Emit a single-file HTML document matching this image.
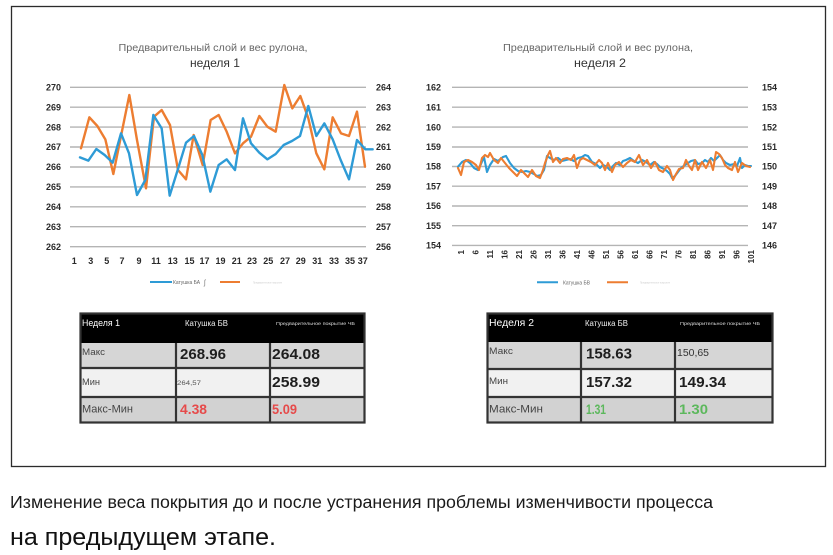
<!DOCTYPE html>
<html>
<head>
<meta charset="utf-8">
<style>
  html,body{margin:0;padding:0;background:#fff;}
  svg{display:block;}
  text{font-family:"Liberation Sans","Noto Sans CJK SC",sans-serif;}
</style>
</head>
<body>
<svg width="833" height="555" viewBox="0 0 833 555" xmlns="http://www.w3.org/2000/svg">
  <rect x="0" y="0" width="833" height="555" fill="#ffffff"/>
  <!-- frame -->
  <rect x="11.5" y="6.5" width="814" height="460" fill="none" stroke="#2b2b2b" stroke-width="1.3"/>

  <!-- ================= CHART 1 ================= -->
  <text x="213" y="51" font-size="10" fill="#666" text-anchor="middle" textLength="189" lengthAdjust="spacingAndGlyphs">Предварительный слой и вес рулона,</text>
  <text x="215" y="67" font-size="12" fill="#333" text-anchor="middle" textLength="50" lengthAdjust="spacingAndGlyphs">неделя 1</text>

  <g stroke="#b4b4b4" stroke-width="1.4">
    <line x1="70" y1="87.3" x2="366" y2="87.3"/>
    <line x1="70" y1="107.2" x2="366" y2="107.2"/>
    <line x1="70" y1="127.1" x2="366" y2="127.1"/>
    <line x1="70" y1="147" x2="366" y2="147"/>
    <line x1="70" y1="167" x2="366" y2="167"/>
    <line x1="70" y1="186.9" x2="366" y2="186.9"/>
    <line x1="70" y1="206.8" x2="366" y2="206.8"/>
    <line x1="70" y1="226.7" x2="366" y2="226.7"/>
    <line x1="70" y1="246.7" x2="366" y2="246.7"/>
  </g>
  <g font-size="9" font-weight="bold" fill="#2a2a2a" text-anchor="end">
    <text x="61" y="90.5">270</text>
    <text x="61" y="110.4">269</text>
    <text x="61" y="130.3">268</text>
    <text x="61" y="150.2">267</text>
    <text x="61" y="170.2">266</text>
    <text x="61" y="190.1">265</text>
    <text x="61" y="210">264</text>
    <text x="61" y="229.9">263</text>
    <text x="61" y="249.9">262</text>
  </g>
  <g font-size="9" font-weight="bold" fill="#2a2a2a" text-anchor="start">
    <text x="376" y="90.5">264</text>
    <text x="376" y="110.4">263</text>
    <text x="376" y="130.3">262</text>
    <text x="376" y="150.2">261</text>
    <text x="376" y="170.2">260</text>
    <text x="376" y="190.1">259</text>
    <text x="376" y="210">258</text>
    <text x="376" y="229.9">257</text>
    <text x="376" y="249.9">256</text>
  </g>
  <g font-size="9" font-weight="bold" fill="#2a2a2a" text-anchor="middle">
    <text x="74.3" y="264">1</text>
    <text x="90.7" y="264">3</text>
    <text x="106.7" y="264">5</text>
    <text x="122" y="264">7</text>
    <text x="139" y="264">9</text>
    <text x="156" y="264">11</text>
    <text x="172.7" y="264">13</text>
    <text x="189.5" y="264">15</text>
    <text x="204.5" y="264">17</text>
    <text x="220.5" y="264">19</text>
    <text x="236.7" y="264">21</text>
    <text x="252" y="264">23</text>
    <text x="268.3" y="264">25</text>
    <text x="285" y="264">27</text>
    <text x="300.7" y="264">29</text>
    <text x="317.3" y="264">31</text>
    <text x="334" y="264">33</text>
    <text x="350" y="264">35</text>
    <text x="362.7" y="264">37</text>
  </g>

  <g transform="translate(40,30) scale(0.33333)" fill="none" stroke-linejoin="round" stroke-linecap="round">
    <polyline stroke="#ed7d31" stroke-width="2.4" vector-effect="non-scaling-stroke"
      points="123,355 148,262 172,288 196,328 220,432 243,318 268,195 291,330 318,475 342,260 365,240 390,285 414,420 438,448 461,315 488,405 512,270 536,255 560,305 585,370 609,340 633,320 658,258 682,290 707,305 733,165 757,235 781,198 805,265 829,370 853,418 878,262 903,310 927,318 951,245 975,410"/>
    <polyline stroke="#2e9bd6" stroke-width="2.4" vector-effect="non-scaling-stroke"
      points="120,382 145,392 169,357 194,375 218,398 243,310 267,370 291,495 316,450 340,255 365,295 389,497 413,420 438,338 462,318 487,375 511,485 536,405 560,388 585,420 609,265 633,340 658,368 682,388 707,372 731,345 756,333 780,318 805,228 829,318 853,280 878,328 902,390 927,448 951,330 976,358 998,358"/>
  </g>

  <!-- legend 1 -->
  <line x1="150" y1="282" x2="172" y2="282" stroke="#2e9bd6" stroke-width="2"/>
  <text x="173" y="284" font-size="5" fill="#666" textLength="27" lengthAdjust="spacingAndGlyphs">Катушка БА</text>
  <text x="204" y="285" font-size="7" fill="#777">ʃ</text>
  <line x1="220" y1="282" x2="240" y2="282" stroke="#ed7d31" stroke-width="2"/>
  <text x="253" y="283.5" font-size="3" fill="#ccc" textLength="29" lengthAdjust="spacingAndGlyphs">Предварительное покрытие</text>

  <!-- ================= CHART 2 ================= -->
  <text x="598" y="51" font-size="10" fill="#666" text-anchor="middle" textLength="190" lengthAdjust="spacingAndGlyphs">Предварительный слой и вес рулона,</text>
  <text x="600" y="67" font-size="12" fill="#333" text-anchor="middle" textLength="52" lengthAdjust="spacingAndGlyphs">неделя 2</text>

  <g stroke="#b4b4b4" stroke-width="1.4">
    <line x1="452" y1="87.3" x2="748" y2="87.3"/>
    <line x1="452" y1="107.2" x2="748" y2="107.2"/>
    <line x1="452" y1="127.1" x2="748" y2="127.1"/>
    <line x1="452" y1="147" x2="748" y2="147"/>
    <line x1="452" y1="166.5" x2="748" y2="166.5"/>
    <line x1="452" y1="186.2" x2="748" y2="186.2"/>
    <line x1="452" y1="206" x2="748" y2="206"/>
    <line x1="452" y1="225.7" x2="748" y2="225.7"/>
    <line x1="452" y1="245.4" x2="748" y2="245.4"/>
  </g>
  <g font-size="9" font-weight="bold" fill="#2a2a2a" text-anchor="end">
    <text x="441" y="90.5">162</text>
    <text x="441" y="110.4">161</text>
    <text x="441" y="130.3">160</text>
    <text x="441" y="150.2">159</text>
    <text x="441" y="169.7">158</text>
    <text x="441" y="189.4">157</text>
    <text x="441" y="209.2">156</text>
    <text x="441" y="228.9">155</text>
    <text x="441" y="248.6">154</text>
  </g>
  <g font-size="9" font-weight="bold" fill="#2a2a2a" text-anchor="start">
    <text x="762" y="90.5">154</text>
    <text x="762" y="110.4">153</text>
    <text x="762" y="130.3">152</text>
    <text x="762" y="150.2">151</text>
    <text x="762" y="169.7">150</text>
    <text x="762" y="189.4">149</text>
    <text x="762" y="209.2">148</text>
    <text x="762" y="228.9">147</text>
    <text x="762" y="248.6">146</text>
  </g>
  <g font-size="8" font-weight="bold" fill="#2a2a2a" text-anchor="end">
    <text transform="translate(464,250) rotate(-90)">1</text>
    <text transform="translate(478.5,250) rotate(-90)">6</text>
    <text transform="translate(493,250) rotate(-90)">11</text>
    <text transform="translate(507.5,250) rotate(-90)">16</text>
    <text transform="translate(522,250) rotate(-90)">21</text>
    <text transform="translate(536.5,250) rotate(-90)">26</text>
    <text transform="translate(551,250) rotate(-90)">31</text>
    <text transform="translate(565.5,250) rotate(-90)">36</text>
    <text transform="translate(580,250) rotate(-90)">41</text>
    <text transform="translate(594.5,250) rotate(-90)">46</text>
    <text transform="translate(609,250) rotate(-90)">51</text>
    <text transform="translate(623.5,250) rotate(-90)">56</text>
    <text transform="translate(638,250) rotate(-90)">61</text>
    <text transform="translate(652.5,250) rotate(-90)">66</text>
    <text transform="translate(667,250) rotate(-90)">71</text>
    <text transform="translate(681.5,250) rotate(-90)">76</text>
    <text transform="translate(696,250) rotate(-90)">81</text>
    <text transform="translate(710.5,250) rotate(-90)">86</text>
    <text transform="translate(725,250) rotate(-90)">91</text>
    <text transform="translate(739.5,250) rotate(-90)">96</text>
    <text transform="translate(754,250) rotate(-90)">101</text>
  </g>

  <g fill="none" stroke-linejoin="round" stroke-linecap="round" stroke-width="2.1">
    <polyline stroke="#2e9bd6" points="458,166.7 462,162 466,160 470,163 474,168 478,170 481,164 484,157 487,172 490,165 494,159 498,161 503,157 506,156 510,163 514,168 518,171 522,172 526,171 530,172 534,174 537,176 541,175 544,170 547,156 550,158 554,160 558,158 562,161 566,160 570,159 574,161 578,158 582,157 585,155 588,156 592,162 596,164 600,168 603,165 607,167 610,170 613,166 616,163 620,165 623,161 626,160 630,158 634,161 638,163 642,160 646,162 650,165 654,162 657,164 660,167 664,169 667,171 670,174 672,178 675,176 678,172 681,168 685,165 688,163 691,161 695,160 698,164 702,163 705,160 708,162 711,158 714,161 717,158 720,155 723,160 726,163 730,165 734,164 737,166 740,158 742,168 745,165 748,166 751,166"/>
    <polyline stroke="#ed7d31" points="458,168 461,175 464,162 468,160 472,162 476,165 479,170 482,158 485,155 488,157 490,153 494,160 498,163 501,158 505,163 509,168 513,172 517,176 521,170 525,174 528,177 532,170 536,176 540,178 543,170 545,163 548,155 550,151 553,162 556,158 560,163 563,159 567,158 571,160 574,155 577,168 580,160 583,158 587,160 591,162 595,165 599,160 602,163 605,170 608,163 612,172 615,165 619,162 623,167 627,163 631,160 635,162 639,155 643,165 647,160 651,168 655,162 659,170 663,172 667,166 670,170 673,180 676,174 679,169 683,168 686,160 689,166 692,170 695,160 698,170 702,162 706,168 710,160 713,170 716,152 719,154 722,158 725,165 728,168 732,170 735,162 738,172 742,163 746,166 750,167"/>
  </g>

  <!-- legend 2 -->
  <line x1="537" y1="282.3" x2="558" y2="282.3" stroke="#2e9bd6" stroke-width="2"/>
  <text x="563" y="284.3" font-size="5.5" fill="#666" textLength="27" lengthAdjust="spacingAndGlyphs">Катушка БВ</text>
  <line x1="607" y1="282.3" x2="628" y2="282.3" stroke="#ed7d31" stroke-width="2"/>
  <text x="640" y="283.5" font-size="3" fill="#ccc" textLength="30" lengthAdjust="spacingAndGlyphs">Предварительное покрытие</text>

  <!-- ================= TABLE 1 ================= -->
  <rect x="80" y="313" width="285" height="30" fill="#000"/>
  <rect x="80" y="343" width="285" height="25" fill="#d6d6d6"/>
  <rect x="80" y="368" width="285" height="29" fill="#f1f1f1"/>
  <rect x="80" y="397" width="285" height="26" fill="#d2d2d2"/>
  <g stroke="#333" stroke-width="2.2" fill="none">
    <rect x="80.5" y="313.5" width="284" height="109"/>
    <line x1="80" y1="368" x2="365" y2="368"/>
    <line x1="80" y1="397" x2="365" y2="397"/>
    <line x1="176" y1="343" x2="176" y2="423"/>
    <line x1="270" y1="343" x2="270" y2="423"/>
  </g>
  <text x="82" y="326" font-size="9.5" fill="#fff" textLength="38" lengthAdjust="spacingAndGlyphs">Неделя 1</text>
  <text x="185" y="326" font-size="8" fill="#eee" textLength="43" lengthAdjust="spacingAndGlyphs">Катушка БВ</text>
  <text x="276" y="325" font-size="4.5" fill="#ddd" textLength="79" lengthAdjust="spacingAndGlyphs">Предварительное покрытие ЧБ</text>

  <text x="82" y="355" font-size="9" fill="#444" textLength="23" lengthAdjust="spacingAndGlyphs">Макс</text>
  <text x="180" y="359" font-size="14.5" font-weight="bold" fill="#1e1e1e" textLength="46" lengthAdjust="spacingAndGlyphs">268.96</text>
  <text x="272" y="359" font-size="14.5" font-weight="bold" fill="#1e1e1e" textLength="48" lengthAdjust="spacingAndGlyphs">264.08</text>

  <text x="82" y="385" font-size="9" fill="#444" textLength="18" lengthAdjust="spacingAndGlyphs">Мин</text>
  <text x="177" y="385" font-size="6.5" fill="#555" textLength="24" lengthAdjust="spacingAndGlyphs">264,57</text>
  <text x="272" y="387" font-size="14.5" font-weight="bold" fill="#1e1e1e" textLength="48" lengthAdjust="spacingAndGlyphs">258.99</text>

  <text x="82" y="412.5" font-size="11" fill="#444" textLength="51" lengthAdjust="spacingAndGlyphs">Макс-Мин</text>
  <text x="180" y="414" font-size="13.5" font-weight="bold" fill="#e64a4a" textLength="27" lengthAdjust="spacingAndGlyphs">4.38</text>
  <text x="272" y="414" font-size="13.5" font-weight="bold" fill="#e64a4a" textLength="25" lengthAdjust="spacingAndGlyphs">5.09</text>

  <!-- ================= TABLE 2 ================= -->
  <rect x="487" y="313" width="286" height="29" fill="#000"/>
  <rect x="487" y="342" width="286" height="27" fill="#d6d6d6"/>
  <rect x="487" y="369" width="286" height="28" fill="#f1f1f1"/>
  <rect x="487" y="397" width="286" height="26" fill="#d2d2d2"/>
  <g stroke="#333" stroke-width="2.2" fill="none">
    <rect x="487.5" y="313.5" width="285" height="109"/>
    <line x1="487" y1="369" x2="773" y2="369"/>
    <line x1="487" y1="397" x2="773" y2="397"/>
    <line x1="581" y1="342" x2="581" y2="423"/>
    <line x1="675" y1="342" x2="675" y2="423"/>
  </g>
  <text x="489" y="326" font-size="10.5" fill="#fff" textLength="45" lengthAdjust="spacingAndGlyphs">Неделя 2</text>
  <text x="585" y="326" font-size="8" fill="#eee" textLength="43" lengthAdjust="spacingAndGlyphs">Катушка БВ</text>
  <text x="680" y="325" font-size="4.5" fill="#ddd" textLength="80" lengthAdjust="spacingAndGlyphs">Предварительное покрытие ЧБ</text>

  <text x="489" y="354" font-size="9" fill="#444" textLength="24" lengthAdjust="spacingAndGlyphs">Макс</text>
  <text x="586" y="358.5" font-size="14.5" font-weight="bold" fill="#1e1e1e" textLength="46" lengthAdjust="spacingAndGlyphs">158.63</text>
  <text x="677" y="356" font-size="10" fill="#333" textLength="32" lengthAdjust="spacingAndGlyphs">150,65</text>

  <text x="489" y="384" font-size="9" fill="#444" textLength="19" lengthAdjust="spacingAndGlyphs">Мин</text>
  <text x="586" y="387" font-size="14.5" font-weight="bold" fill="#1e1e1e" textLength="46" lengthAdjust="spacingAndGlyphs">157.32</text>
  <text x="679" y="387" font-size="14.5" font-weight="bold" fill="#1e1e1e" textLength="47" lengthAdjust="spacingAndGlyphs">149.34</text>

  <text x="489" y="412.5" font-size="11" fill="#444" textLength="54" lengthAdjust="spacingAndGlyphs">Макс-Мин</text>
  <text x="586" y="414" font-size="14" font-weight="bold" fill="#5cb85c" textLength="20" lengthAdjust="spacingAndGlyphs">1.31</text>
  <text x="679" y="414" font-size="14" font-weight="bold" fill="#5cb85c" textLength="29" lengthAdjust="spacingAndGlyphs">1.30</text>

  <!-- ================= CAPTION ================= -->
  <text x="10" y="508" font-size="17.5" fill="#1a1a1a" textLength="703" lengthAdjust="spacingAndGlyphs">Изменение веса покрытия до и после устранения проблемы изменчивости процесса</text>
  <text x="10" y="545" font-size="24" fill="#111" textLength="266" lengthAdjust="spacingAndGlyphs">на предыдущем этапе.</text>
</svg>
</body>
</html>
